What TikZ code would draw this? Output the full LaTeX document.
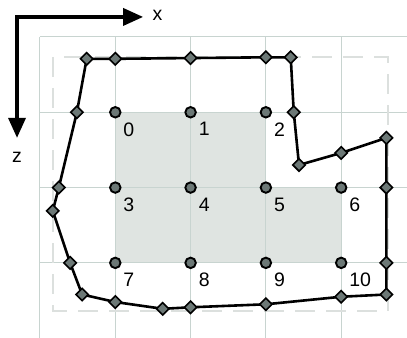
\documentclass[tikz,border=0pt]{standalone}
\usepackage{fontspec}
\setmainfont{Liberation Sans}
\usepackage{tikz}
\usetikzlibrary{arrows.meta, shapes.geometric}

\definecolor{gridline}{RGB}{200,212,208}
\definecolor{cellfill}{RGB}{223,228,225}
\definecolor{markfill}{RGB}{108,120,118}
\definecolor{boxdash}{RGB}{220,224,222}

\begin{document}
\begin{tikzpicture}[
    x=75.3pt, y=-75.3pt,
    gpt/.style={circle, draw=black, fill=markfill, line width=1.9pt, inner sep=0pt, minimum size=10.5pt},
    vtx/.style={diamond, draw=black, fill=markfill, line width=1.6pt, inner sep=0pt, minimum size=13pt},
    idx/.style={anchor=north west, inner sep=0pt, font=\fontsize{19.5}{19.5}\selectfont},
    axlbl/.style={inner sep=0pt, font=\fontsize{19.5}{19.5}\selectfont},
    axis/.style={line width=3.5pt, {Triangle[length=20pt, width=17pt]}-{Triangle[length=20pt, width=17pt]}}
]
    \useasboundingbox (-0.531,-0.491) rectangle (4.874,3.997);

    % cells covered
    \fill[cellfill] (1,1) -- (3,1) -- (3,2) -- (4,2) -- (4,3) -- (1,3) -- cycle;

    % grid
    \foreach \gx in {0,...,4}
        \draw[gridline, line width=1pt] (\gx,0) -- (\gx,3.997);
    \foreach \gz in {0,...,3}
        \draw[gridline, line width=1pt] (0,\gz) -- (4.874,\gz);

    % bounds
    \draw[boxdash, line width=2pt, dash pattern=on 20pt off 11pt] (0.173,0.266) rectangle (4.621,3.639);

    % axes
    \coordinate (origin) at (-0.305,-0.266);
    \coordinate (xend) at (1.37,-0.266);
    \coordinate (zend) at (-0.305,1.34);
    \draw[axis] (xend) -- (origin) -- (zend);
    \node[axlbl] (xlab) at (1.56,-0.29) {x};
    \node[axlbl] (zlab) at (-0.305,1.6) {z};

    % outline
    \foreach \px/\pz [count=\k] in {0.62/0.29, 1/0.29, 2/0.28, 3/0.27, 3.33/0.27, 3.37/1, 3.44/1.7,
        4/1.54, 4.6/1.34, 4.6/2, 4.6/3, 4.6/3.42, 4/3.45, 3/3.55, 2/3.59, 1.63/3.61,
        1/3.52, 0.56/3.42, 0.4/3, 0.17/2.31, 0.25/2, 0.49/1}
        \coordinate (v\k) at (\px,\pz);
    \draw[line width=2.6pt, line join=round] (v1) \foreach \k in {2,...,22} { -- (v\k) } -- cycle;
    \foreach \k in {1,...,22}
        \node[vtx] (m\k) at (v\k) {};

    % grid points
    \foreach \n/\gx/\gz in {0/1/1, 1/2/1, 2/3/1, 3/1/2, 4/2/2, 5/3/2, 6/4/2, 7/1/3, 8/2/3, 9/3/3, 10/4/3} {
        \node[gpt] (p\n) at (\gx,\gz) {};
        \node[idx] (l\n) at ([shift={(8pt,-10pt)}]p\n.center) {\n};
    }
\end{tikzpicture}
\end{document}
